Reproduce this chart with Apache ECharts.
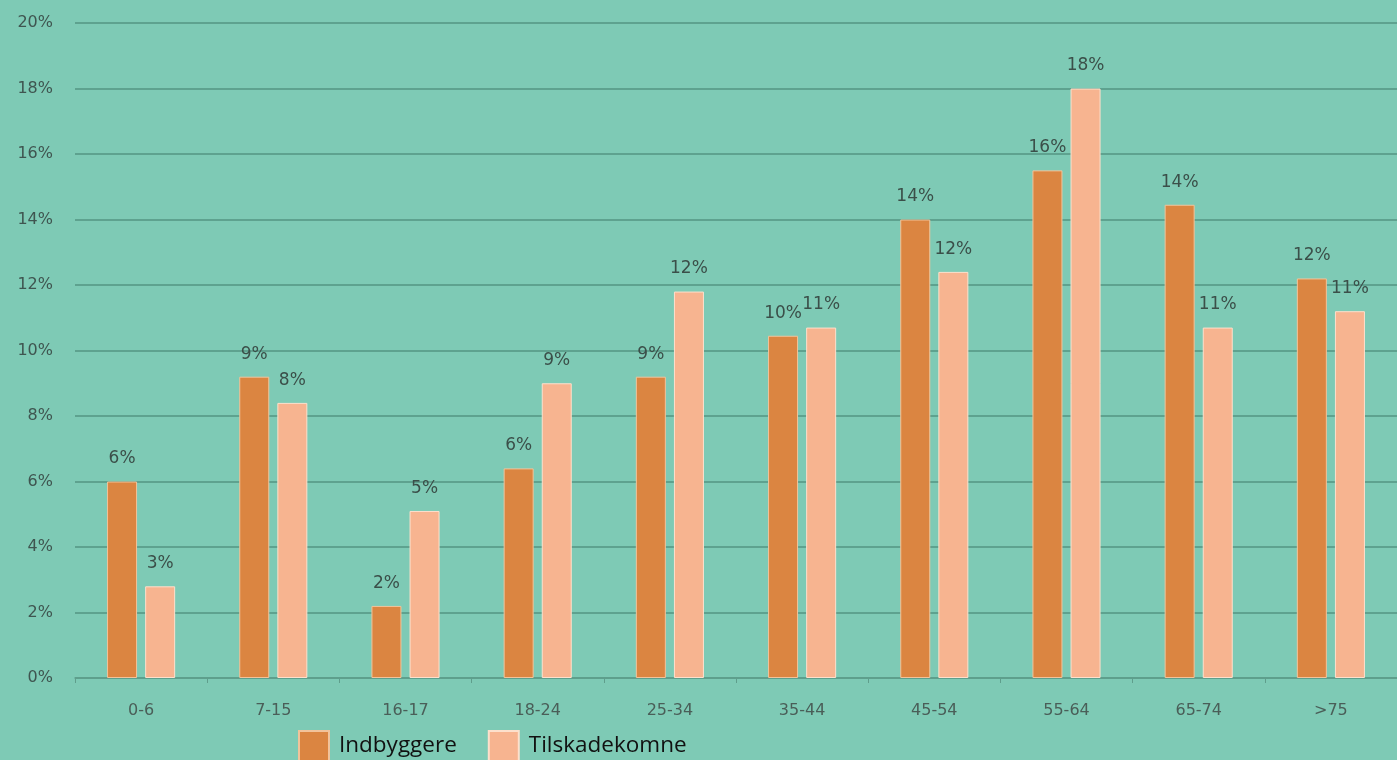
<!DOCTYPE html>
<html>
<head>
<meta charset="utf-8">
<script src="https://cdn.jsdelivr.net/npm/echarts@6/dist/echarts.min.js"></script>
<style>
  html, body { margin: 0; padding: 0; background: #7ecab5; }
  #chart { width: 1397px; height: 760px; }
</style>
</head>
<body>
<div id="chart"></div>
<script>
// aldersgrupper
var ageGroups = ['0-6', '7-15', '16-17', '18-24', '25-34', '35-44', '45-54', '55-64', '65-74', '>75']
// andel i procent
var indbyggere = [6.0, 9.2, 2.2, 6.4, 9.2, 10.45, 14.0, 15.5, 14.45, 12.2]
var tilskadekomne = [2.8, 8.4, 5.1, 9.0, 11.8, 10.7, 12.4, 18.0, 10.7, 11.2]
var yTicks = [0, 2, 4, 6, 8, 10, 12, 14, 16, 18, 20]

var myChart = echarts.init(document.getElementById('chart'))

var labelStyle = {
  show: true,
  position: 'top',
  distance: 14,
  color: '#3b4f49',
  fontFamily: 'DejaVu Sans',
  fontSize: 17,
  formatter: function (p) { return Math.round(p.value) + '%' }
}

myChart.setOption({
  backgroundColor: '#7ecab5',
  animation: false,
  grid: { left: 75, right: 0, top: 23, bottom: 82 },
  legend: {
    left: 298,
    top: 730,
    padding: 0,
    itemWidth: 30,
    itemHeight: 30,
    itemGap: 31,
    icon: 'rect',
    textStyle: {
      color: '#111',
      fontFamily: 'Open Sans',
      fontSize: 22.5,
      padding: [0, 0, 0, 5]
    },
    data: ['Indbyggere', 'Tilskadekomne']
  },
  xAxis: {
    type: 'category',
    data: ageGroups,
    axisLine: { lineStyle: { color: '#5f9e8c', width: 1.5 } },
    axisTick: { show: true, length: 5, lineStyle: { color: '#5f9e8c' } },
    axisLabel: {
      color: '#4a5e58',
      fontFamily: 'DejaVu Sans',
      fontSize: 16,
      margin: 25
    }
  },
  yAxis: {
    type: 'value',
    min: yTicks[0],
    max: yTicks[yTicks.length - 1],
    interval: 2,
    axisLine: { show: false },
    axisTick: { show: false },
    splitLine: { lineStyle: { color: '#5ea28f', width: 2 } },
    axisLabel: {
      color: '#3f5550',
      fontFamily: 'DejaVu Sans',
      fontSize: 16,
      margin: 22,
      formatter: '{value}%'
    }
  },
  series: [
    {
      name: 'Indbyggere',
      type: 'bar',
      data: indbyggere,
      barWidth: 30,
      barGap: '27%',
      itemStyle: { color: '#db8541', borderColor: '#f2c39a', borderWidth: 1 },
      label: labelStyle
    },
    {
      name: 'Tilskadekomne',
      type: 'bar',
      data: tilskadekomne,
      barWidth: 30,
      itemStyle: { color: '#f7b490', borderColor: '#fde0cc', borderWidth: 1 },
      label: labelStyle
    }
  ]
})
</script>
</body>
</html>
